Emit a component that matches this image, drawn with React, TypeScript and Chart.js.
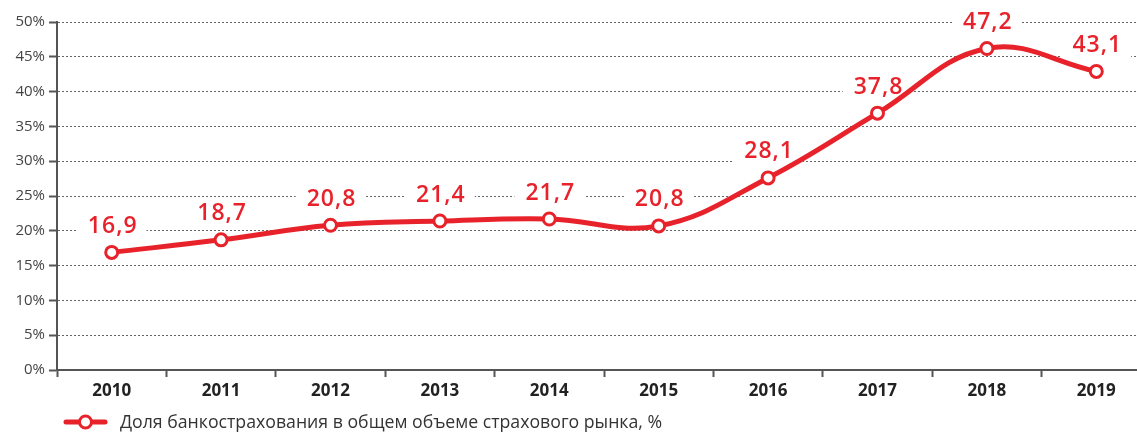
import React, { useEffect, useRef } from "react";
import { Chart, registerables } from "chart.js";

Chart.register(...registerables);

const years = ["2010", "2011", "2012", "2013", "2014", "2015", "2016", "2017", "2018", "2019"];
// positions of the markers
const shareValues = [16.9, 18.7, 20.8, 21.4, 21.7, 20.7, 27.6, 36.9, 46.2, 42.9];
// printed value labels
const shareLabels = ["16,9", "18,7", "20,8", "21,4", "21,7", "20,8", "28,1", "37,8", "47,2", "43,1"];
const seriesLabel = "Доля банкострахования в общем объеме страхового рынка, %";

const RED = "#E8222B";
const LABEL_FONT = "600 23px 'Open Sans'";
const LABEL_OFFSET = 27;

const dataLabelPlugin = {
  id: "dataLabels",
  beforeDatasetsDraw(chart: any) {
    const ctx = chart.ctx;
    const meta = chart.getDatasetMeta(0);
    ctx.save();
    ctx.font = LABEL_FONT;
    (ctx as any).letterSpacing = "1px";
    meta.data.forEach((pt: any, i: number) => {
      const t = shareLabels[i];
      const w = ctx.measureText(t).width;
      const cy = pt.y - LABEL_OFFSET;
      ctx.fillStyle = "#ffffff";
      ctx.fillRect(pt.x - w / 2 - 10, cy - 13, w + 20, 26);
    });
    ctx.restore();
  },
  afterDatasetsDraw(chart: any) {
    const ctx = chart.ctx;
    const meta = chart.getDatasetMeta(0);
    ctx.save();
    ctx.font = LABEL_FONT;
    (ctx as any).letterSpacing = "1px";
    ctx.fillStyle = RED;
    ctx.textAlign = "center";
    ctx.textBaseline = "middle";
    meta.data.forEach((pt: any, i: number) => {
      ctx.fillText(shareLabels[i], pt.x + 1, pt.y - LABEL_OFFSET + 1);
    });
    ctx.restore();
  },
};

const legendPlugin = {
  id: "customLegend",
  afterDraw(chart: any) {
    const ctx = chart.ctx;
    const y = 422;
    ctx.save();
    ctx.strokeStyle = RED;
    ctx.lineWidth = 5;
    ctx.lineCap = "round";
    ctx.beginPath();
    ctx.moveTo(66, y);
    ctx.lineTo(105, y);
    ctx.stroke();
    ctx.beginPath();
    ctx.arc(85.5, y, 6, 0, Math.PI * 2);
    ctx.fillStyle = "#ffffff";
    ctx.fill();
    ctx.lineWidth = 3;
    ctx.stroke();
    ctx.font = "17.7px 'Open Sans'";
    ctx.fillStyle = "#333333";
    ctx.textAlign = "left";
    ctx.textBaseline = "middle";
    ctx.fillText(seriesLabel, 120, y + 1);
    ctx.restore();
  },
};

export default function App() {
  const ref = useRef<HTMLCanvasElement | null>(null);

  useEffect(() => {
    if (!ref.current) return;
    const chart = new Chart(ref.current, {
      type: "line",
      data: {
        labels: years,
        datasets: [
          {
            label: seriesLabel,
            data: shareValues,
            borderColor: RED,
            borderWidth: 5,
            tension: 0.4,
            pointRadius: 6,
            pointBorderWidth: 3,
            pointBackgroundColor: "#ffffff",
            pointBorderColor: RED,
            clip: false as any,
          },
        ],
      },
      options: {
        animation: false,
        responsive: false,
        devicePixelRatio: 1,
        layout: { padding: { top: 22, right: 1, left: 0, bottom: 0 } },
        plugins: {
          legend: { display: false },
          tooltip: { enabled: false },
        },
        scales: {
          x: {
            offset: true,
            grid: {
              offset: true,
              drawOnChartArea: false,
              drawTicks: true,
              tickLength: 7,
              tickColor: "#555555",
              tickWidth: 2,
            },
            border: { display: true, color: "#555555", width: 2 },
            ticks: {
              color: "#222222",
              font: { family: "'Open Sans'", size: 17, weight: "bold" },
              padding: 4,
              maxRotation: 0,
            },
            afterFit(scale: any) {
              scale.height = 62;
            },
          },
          y: {
            min: 0,
            max: 50,
            ticks: {
              stepSize: 5,
              color: "#444444",
              font: { family: "'Open Sans'", size: 15 },
              padding: 4,
              callback: (v: any) => `${v}%`,
            },
            grid: {
              color: "#666666",
              lineWidth: 1,
              drawTicks: true,
              tickLength: 8,
              tickColor: "#555555",
              tickWidth: 2,
              tickBorderDash: [],
            } as any,
            border: { display: true, color: "#555555", width: 2, dash: [2, 2] },
            afterFit(scale: any) {
              scale.width = 57;
            },
          },
        },
      },
      plugins: [dataLabelPlugin, legendPlugin],
    });
    return () => chart.destroy();
  }, []);

  return (
    <div
      style={{
        position: "fixed",
        left: 0,
        top: 0,
        width: 1137,
        height: 432,
        overflow: "hidden",
        background: "#ffffff",
      }}
    >
      <canvas ref={ref} width={1160} height={432} style={{ width: 1160, height: 432, display: "block" }} />
    </div>
  );
}
